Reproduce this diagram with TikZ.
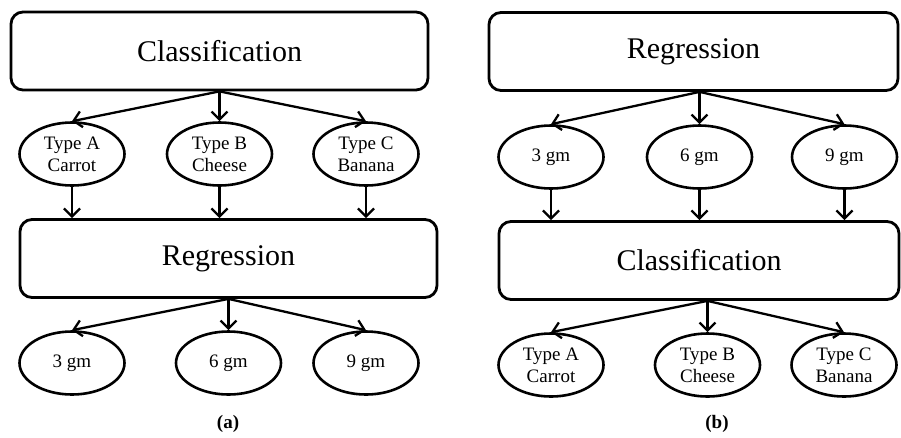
\documentclass[tikz,border=0pt]{standalone}
\usepackage{fontspec}
\setmainfont{Liberation Serif}
\usetikzlibrary{arrows.meta,shapes.geometric}

\begin{document}
\begin{tikzpicture}[x=1pt,y=-1pt,
    stagebox/.style={draw,line width=2.8pt,rounded corners=12pt,inner sep=0pt,
        minimum height=78pt,font=\fontsize{30}{34}\selectfont},
    leaf/.style={draw,ellipse,line width=2.6pt,inner sep=0pt,minimum width=105pt,
        minimum height=63pt,align=center,font=\fontsize{19}{22}\selectfont},
    link/.style={line width=2.3pt,-{Straight Barb[length=8pt,width=16pt]}},
    caption/.style={font=\bfseries\fontsize{19}{22}\selectfont}]
    \useasboundingbox (0,0) rectangle (901,437);
    % (a) classification first, then regression
    \node[stagebox,minimum width=417pt] (clsA) at (219.5,51) {Classification};
    \node[leaf] (typeAa) at (72,154) {Type A\\Carrot};
    \node[leaf] (typeBa) at (219.5,154) {Type B\\Cheese};
    \node[leaf] (typeCa) at (366,154) {Type C\\Banana};
    \node[stagebox,minimum width=417pt] (regA) at (228.5,258.5) {Regression};
    \node[leaf] (gm3a) at (72,363) {3 gm};
    \node[leaf] (gm6a) at (228.5,363) {6 gm};
    \node[leaf] (gm9a) at (366,363) {9 gm};
    \node[caption] (capA) at (228,424) {(a)};
    \foreach \n in {typeAa,typeBa,typeCa}{
        \draw[link] (clsA.south -| typeBa.north) -- (\n.north);
        \draw[link] (\n.south) -- (\n.south |- regA.north);
    }
    \foreach \n in {gm3a,gm6a,gm9a}
        \draw[link] (regA.south -| gm6a.north) -- (\n.north);
    % (b) regression first, then classification
    \node[stagebox,minimum width=409pt] (regB) at (693.5,51.5) {Regression};
    \node[leaf] (gm3b) at (551,157) {3 gm};
    \node[leaf] (gm6b) at (699.5,157) {6 gm};
    \node[leaf] (gm9b) at (844.5,157) {9 gm};
    \node[stagebox,minimum width=400pt] (clsB) at (699,260.5) {Classification};
    \node[leaf] (typeAb) at (551,365) {Type A\\Carrot};
    \node[leaf] (typeBb) at (707.5,365) {Type B\\Cheese};
    \node[leaf] (typeCb) at (844,365) {Type C\\Banana};
    \node[caption] (capB) at (717,424) {(b)};
    \foreach \n in {gm3b,gm6b,gm9b}{
        \draw[link] (regB.south -| gm6b.north) -- (\n.north);
        \draw[link] (\n.south) -- (\n.south |- clsB.north);
    }
    \foreach \n in {typeAb,typeBb,typeCb}
        \draw[link] (clsB.south -| typeBb.north) -- (\n.north);
\end{tikzpicture}
\end{document}
